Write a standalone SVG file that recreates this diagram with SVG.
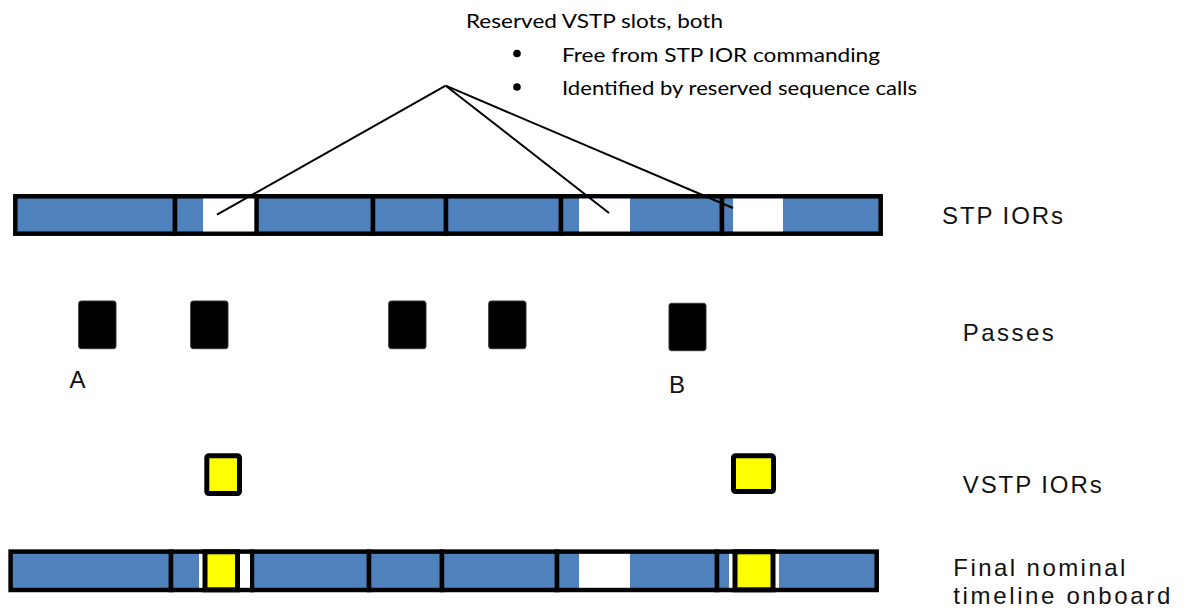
<svg xmlns="http://www.w3.org/2000/svg" width="1189" height="612" viewBox="0 0 1189 612">
<style>
.seg{fill:#4F81BD;stroke:#000;stroke-width:4.5}
.slot{fill:#fff;stroke:none}
.pass{fill:#000;stroke:#333;stroke-width:1}
.vstp{fill:#FFFF00;stroke:#000;stroke-width:5}
.lbl{font-family:"Liberation Sans",Arial,sans-serif;font-size:24px;fill:#111}
.note{font-family:"Lato","Open Sans",sans-serif;font-size:20px;fill:#000}
.conn{stroke:#000;stroke-width:2;fill:none}
</style>
<rect width="1189" height="612" fill="#fff"/>

<g id="note">
<text class="note" x="466" y="28" textLength="257" lengthAdjust="spacingAndGlyphs">Reserved VSTP slots, both</text>
<circle cx="517" cy="53.5" r="3.8"/>
<text class="note" x="562" y="62" textLength="318" lengthAdjust="spacingAndGlyphs">Free from STP IOR commanding</text>
<circle cx="517" cy="87" r="3.8"/>
<text class="note" x="562" y="95" textLength="355" lengthAdjust="spacingAndGlyphs">Identified by reserved sequence calls</text>
</g>

<g id="stp-bar">
<rect class="seg" x="15.3" y="196.3" width="159.7" height="37.4"/>
<rect class="seg" x="175" y="196.3" width="81.5" height="37.4"/>
<rect class="seg" x="256.5" y="196.3" width="116.5" height="37.4"/>
<rect class="seg" x="373" y="196.3" width="73" height="37.4"/>
<rect class="seg" x="446" y="196.3" width="115" height="37.4"/>
<rect class="seg" x="561" y="196.3" width="161" height="37.4"/>
<rect class="seg" x="722" y="196.3" width="158.7" height="37.4"/>
<rect class="slot" x="203" y="198.6" width="51.3" height="32.8"/>
<rect class="slot" x="579" y="198.6" width="51" height="32.8"/>
<rect class="slot" x="733" y="198.6" width="50" height="32.8"/>
</g>

<g id="connectors">
<line class="conn" x1="445.7" y1="85.7" x2="217" y2="214.7"/>
<line class="conn" x1="445.7" y1="85.7" x2="609" y2="213"/>
<line class="conn" x1="445.7" y1="85.7" x2="733" y2="208"/>
</g>

<g id="passes">
<rect class="pass" x="78.7" y="301" width="37.3" height="47.7" rx="2.5"/>
<rect class="pass" x="190.7" y="301" width="37.3" height="47.7" rx="2.5"/>
<rect class="pass" x="388.7" y="301" width="37.3" height="47.7" rx="2.5"/>
<rect class="pass" x="488.7" y="301" width="37.3" height="47.7" rx="2.5"/>
<rect class="pass" x="669" y="303.3" width="37" height="47.4" rx="2.5"/>
</g>

<g id="label-A"><text class="lbl" x="69.5" y="388.3" font-size="23">A</text></g>
<g id="label-B"><text class="lbl" x="669" y="393.3" font-size="23">B</text></g>

<g id="vstp-iors">
<rect class="vstp" x="206.8" y="455.8" width="32.7" height="37.7" rx="2"/>
<rect class="vstp" x="733.5" y="455.8" width="40" height="35.7" rx="2"/>
</g>

<g id="final-bar">
<rect class="seg" x="10.6" y="551.6" width="160.4" height="38.4"/>
<rect class="seg" x="171" y="551.6" width="81" height="38.4"/>
<rect class="seg" x="252" y="551.6" width="117" height="38.4"/>
<rect class="seg" x="369" y="551.6" width="73" height="38.4"/>
<rect class="seg" x="442" y="551.6" width="115" height="38.4"/>
<rect class="seg" x="557" y="551.6" width="160" height="38.4"/>
<rect class="seg" x="717" y="551.6" width="159.7" height="38.4"/>
<rect class="slot" x="199" y="553.9" width="51" height="33.8"/>
<rect class="slot" x="579" y="553.9" width="51" height="33.8"/>
<rect class="slot" x="729" y="553.9" width="50" height="33.8"/>
<rect class="vstp" x="205" y="551.8" width="32.5" height="38"/>
<rect class="vstp" x="735" y="551.8" width="38" height="38"/>
</g>

<g id="label-stp"><text class="lbl" x="942" y="224" textLength="121" lengthAdjust="spacing">STP IORs</text></g>
<g id="label-passes"><text class="lbl" x="962.7" y="340.7" textLength="91" lengthAdjust="spacing">Passes</text></g>
<g id="label-vstp"><text class="lbl" x="962.7" y="492.7" textLength="139" lengthAdjust="spacing">VSTP IORs</text></g>
<g id="label-final">
<text class="lbl" x="953.3" y="576" textLength="172" lengthAdjust="spacing">Final nominal</text>
<text class="lbl" x="953.3" y="603.5" textLength="217" lengthAdjust="spacing">timeline onboard</text>
</g>
</svg>
